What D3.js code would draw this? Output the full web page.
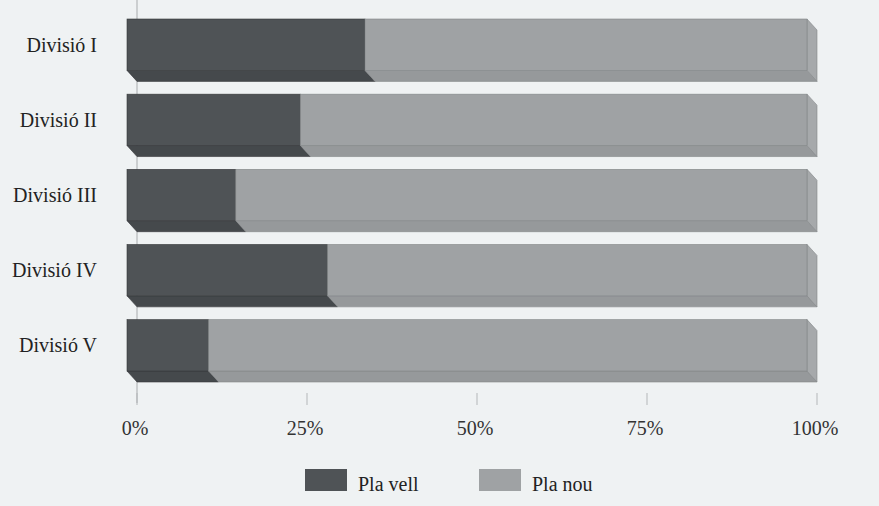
<!DOCTYPE html>
<html lang="ca">
<head>
  <meta charset="UTF-8" />
  <title>Pla vell / Pla nou</title>
  <style>
    body {
      margin: 0;
      background: #eff2f3;
      font-family: "Liberation Serif", "DejaVu Serif", serif;
    }
    svg { display: block; }
    .label { font-size: 20px; fill: #222; }
    .tick-label { font-size: 20px; fill: #333; }
  </style>
</head>
<body>
  <svg width="879" height="506"></svg>

  <script src="https://d3js.org/d3.v7.min.js"></script>
  <script>
    const categories = ["Divisió I", "Divisió II", "Divisió III", "Divisió IV", "Divisió V"];
    const plaVell = [35, 25.5, 16, 29.5, 12];
    const plaNou = [65, 74.5, 84, 70.5, 88];
    const seriesNames = ["Pla vell", "Pla nou"];
    const tickValues = [0, 25, 50, 75, 100];

    const svg = d3.select("svg");
    const depthX = 10, depthY = 11;

    // face of the bars; the axis sits on the back plane
    const x = d3.scaleLinear().domain([0, 100]).range([127, 807]);
    const y = d3.scaleBand().domain(categories).range([19, 382]).paddingInner(0.17).paddingOuter(0);

    const colors = {
      "Pla vell": { face: "#4f5356", bottom: "#45494c", side: "#575b5e", edge: "#35383a" },
      "Pla nou": { face: "#9fa2a4", bottom: "#96999b", side: "#a6a9ab", edge: "#838688" }
    };

    // axis line on back plane
    svg.append("line")
      .attr("x1", x(0) + depthX).attr("x2", x(0) + depthX)
      .attr("y1", 0).attr("y2", 403)
      .attr("stroke", "#a8abad").attr("stroke-width", 1);

    svg.append("g")
      .selectAll("line")
      .data(tickValues)
      .join("line")
        .attr("x1", d => x(d) + depthX).attr("x2", d => x(d) + depthX)
        .attr("y1", 393).attr("y2", 405)
        .attr("stroke", "#b4b7b9");

    svg.append("g")
      .selectAll("text")
      .data(tickValues)
      .join("text")
        .attr("class", "tick-label")
        .attr("x", d => x(d) + depthX - 2)
        .attr("y", 435)
        .attr("text-anchor", "middle")
        .text(d => d + "%");

    const rows = categories.map((c, i) => {
      const segs = [];
      let acc = 0;
      [plaVell[i], plaNou[i]].forEach((v, k) => {
        segs.push({ cat: c, name: seriesNames[k], x0: acc, x1: acc + v, last: k === 1 });
        acc += v;
      });
      return segs;
    });

    const bars = svg.append("g");
    rows.forEach(segs => {
      segs.forEach(s => {
        const top = y(s.cat);
        const bot = top + y.bandwidth() - depthY;
        const xa = x(s.x0), xb = x(s.x1);
        const col = colors[s.name];
        // bottom face
        bars.append("path")
          .attr("d", `M${xa},${bot} L${xb},${bot} L${xb + depthX},${bot + depthY} L${xa + depthX},${bot + depthY} Z`)
          .attr("fill", col.bottom)
          .attr("stroke", col.edge).attr("stroke-width", 0.6);
        // right side face on the last segment
        if (s.last) {
          bars.append("path")
            .attr("d", `M${xb},${top} L${xb + depthX},${top + depthY} L${xb + depthX},${bot + depthY} L${xb},${bot} Z`)
            .attr("fill", col.side)
            .attr("stroke", col.edge).attr("stroke-width", 0.6);
        }
        // front face
        bars.append("rect")
          .attr("x", xa).attr("y", top)
          .attr("width", xb - xa).attr("height", bot - top)
          .attr("fill", col.face)
          .attr("stroke", col.edge).attr("stroke-width", 0.6);
      });
    });

    svg.append("g")
      .selectAll("text")
      .data(categories)
      .join("text")
        .attr("class", "label")
        .attr("x", 97)
        .attr("y", d => y(d) + (y.bandwidth() - depthY) / 2 + 7)
        .attr("text-anchor", "end")
        .text(d => d);

    // legend
    const legend = svg.append("g");
    const legendX = [305, 479];
    seriesNames.forEach((n, i) => {
      legend.append("rect")
        .attr("x", legendX[i]).attr("y", 469)
        .attr("width", 42).attr("height", 22)
        .attr("fill", colors[n].face);
      legend.append("text")
        .attr("class", "label")
        .attr("x", legendX[i] + 53).attr("y", 491)
        .text(n);
    });
  </script>
</body>
</html>
